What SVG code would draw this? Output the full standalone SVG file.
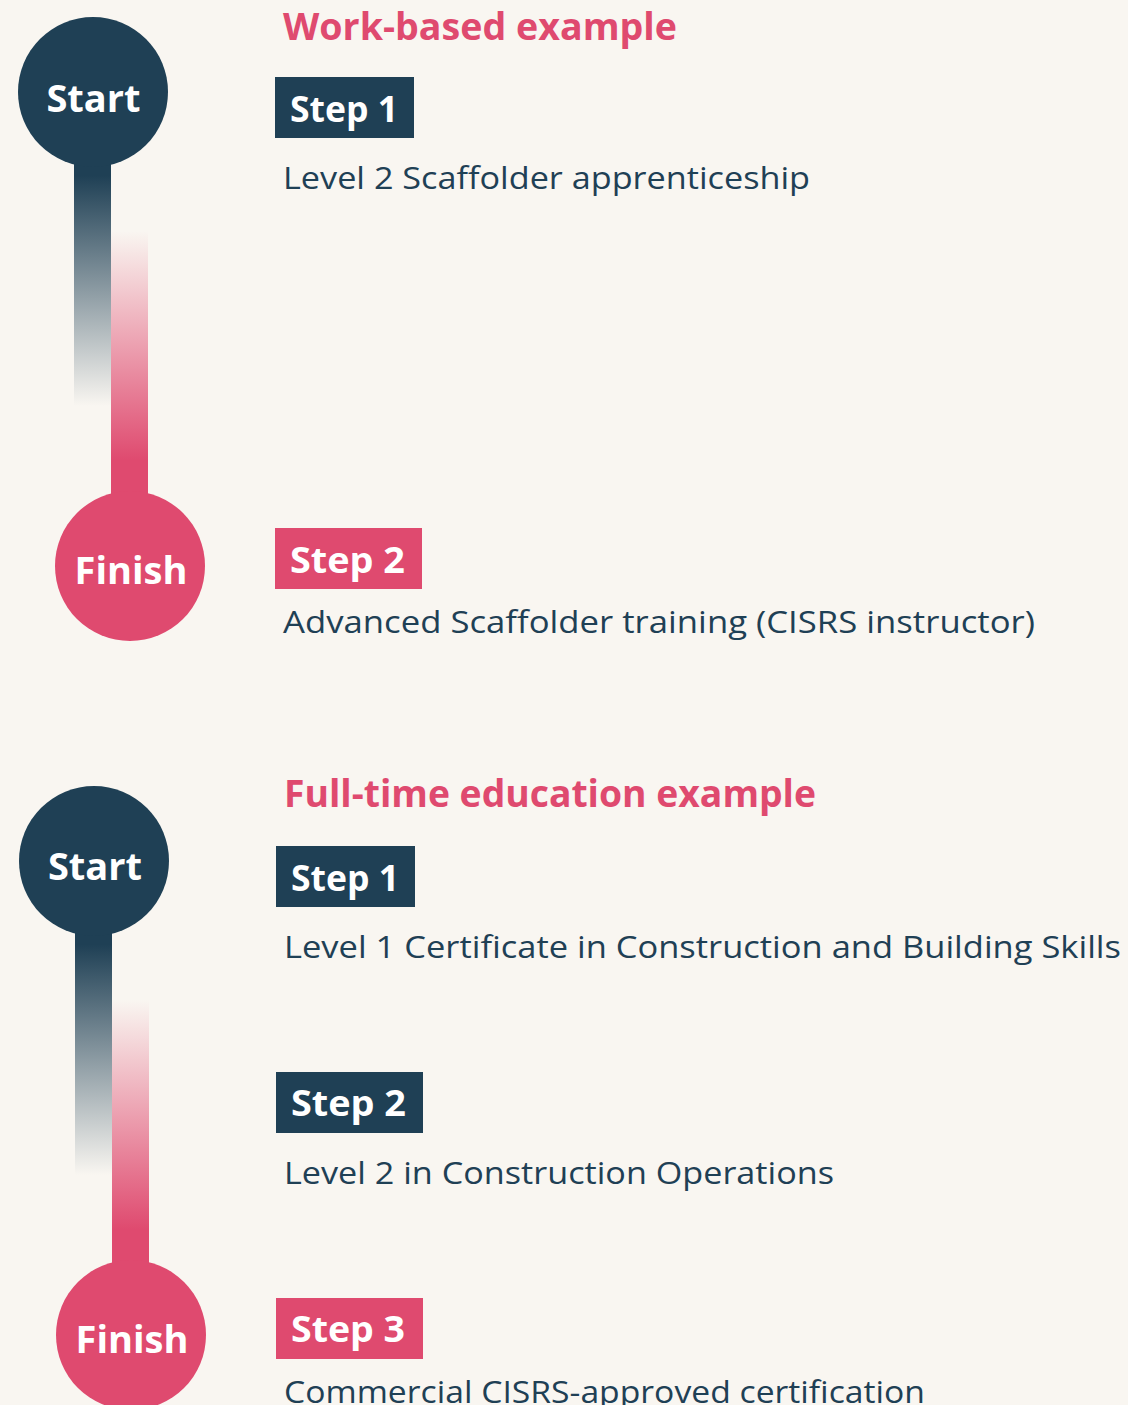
<svg xmlns="http://www.w3.org/2000/svg" width="1128" height="1405" viewBox="0 0 1128 1405">
<style>
.bg{fill:#f9f6f1}
.navy{fill:#1f4055}
.pink{fill:#df4a6f}
.circ{font-family:"Open Sans","Liberation Sans",sans-serif;font-weight:700;font-size:38px;fill:#ffffff;text-anchor:middle}
.head{font-family:"Open Sans","Liberation Sans",sans-serif;font-weight:700;font-size:37px;fill:#df4a6f}
.step{font-family:"Open Sans","Liberation Sans",sans-serif;font-weight:700;font-size:36px;fill:#ffffff}
.desc{font-family:"Open Sans","Liberation Sans",sans-serif;font-weight:400;font-size:31px;fill:#1f4055}
</style>
<defs>
<linearGradient id="gNavy" x1="0" y1="0" x2="0" y2="1">
<stop offset="0" stop-color="#1f4055" stop-opacity="1"/>
<stop offset="0.1" stop-color="#1f4055" stop-opacity="1"/>
<stop offset="1" stop-color="#1f4055" stop-opacity="0"/>
</linearGradient>
<linearGradient id="gPink" x1="0" y1="0" x2="0" y2="1">
<stop offset="0" stop-color="#df4a6f" stop-opacity="0"/>
<stop offset="0.85" stop-color="#df4a6f" stop-opacity="1"/>
<stop offset="1" stop-color="#df4a6f" stop-opacity="1"/>
</linearGradient>
</defs>
<rect class="bg" x="0" y="0" width="1128" height="1405"/>

<g id="connectors">
<rect x="74" y="150" width="37" height="256" fill="url(#gNavy)"/>
<rect x="111" y="231" width="37" height="270" fill="url(#gPink)"/>
<rect x="75" y="919" width="37" height="256" fill="url(#gNavy)"/>
<rect x="112" y="1000" width="37" height="270" fill="url(#gPink)"/>
</g>

<g id="start1">
<circle class="navy" cx="93" cy="92" r="75"/>
<text class="circ" x="93.5" y="112">Start</text>
</g>
<g id="finish1">
<circle class="pink" cx="130" cy="566" r="75"/>
<text class="circ" x="131" y="584">Finish</text>
</g>
<g id="heading1">
<text class="head" x="283" y="40" textLength="394" lengthAdjust="spacingAndGlyphs">Work-based example</text>
</g>
<g id="step1a">
<rect class="navy" x="275" y="77" width="139" height="61"/>
<text class="step" x="290" y="122" textLength="108" lengthAdjust="spacingAndGlyphs">Step 1</text>
<text class="desc" x="283" y="189" textLength="527" lengthAdjust="spacingAndGlyphs">Level 2 Scaffolder apprenticeship</text>
</g>
<g id="step2a">
<rect class="pink" x="275" y="528" width="147" height="61"/>
<text class="step" x="290" y="573" textLength="115" lengthAdjust="spacingAndGlyphs">Step 2</text>
<text class="desc" x="283" y="633" textLength="752" lengthAdjust="spacingAndGlyphs">Advanced Scaffolder training (CISRS instructor)</text>
</g>

<g id="start2">
<circle class="navy" cx="94" cy="861" r="75"/>
<text class="circ" x="95" y="880">Start</text>
</g>
<g id="finish2">
<circle class="pink" cx="131" cy="1335" r="75"/>
<text class="circ" x="132" y="1353">Finish</text>
</g>
<g id="heading2">
<text class="head" x="284" y="807" textLength="532" lengthAdjust="spacingAndGlyphs">Full-time education example</text>
</g>
<g id="step1b">
<rect class="navy" x="276" y="846" width="139" height="61"/>
<text class="step" x="291" y="891" textLength="108" lengthAdjust="spacingAndGlyphs">Step 1</text>
<text class="desc" x="284" y="958" textLength="837" lengthAdjust="spacingAndGlyphs">Level 1 Certificate in Construction and Building Skills</text>
</g>
<g id="step2b">
<rect class="navy" x="276" y="1072" width="147" height="61"/>
<text class="step" x="291" y="1116" textLength="115" lengthAdjust="spacingAndGlyphs">Step 2</text>
<text class="desc" x="284" y="1184" textLength="550" lengthAdjust="spacingAndGlyphs">Level 2 in Construction Operations</text>
</g>
<g id="step3b">
<rect class="pink" x="276" y="1298" width="147" height="61"/>
<text class="step" x="291" y="1342" textLength="114" lengthAdjust="spacingAndGlyphs">Step 3</text>
<text class="desc" x="284" y="1403" textLength="641" lengthAdjust="spacingAndGlyphs">Commercial CISRS-approved certification</text>
</g>
</svg>
